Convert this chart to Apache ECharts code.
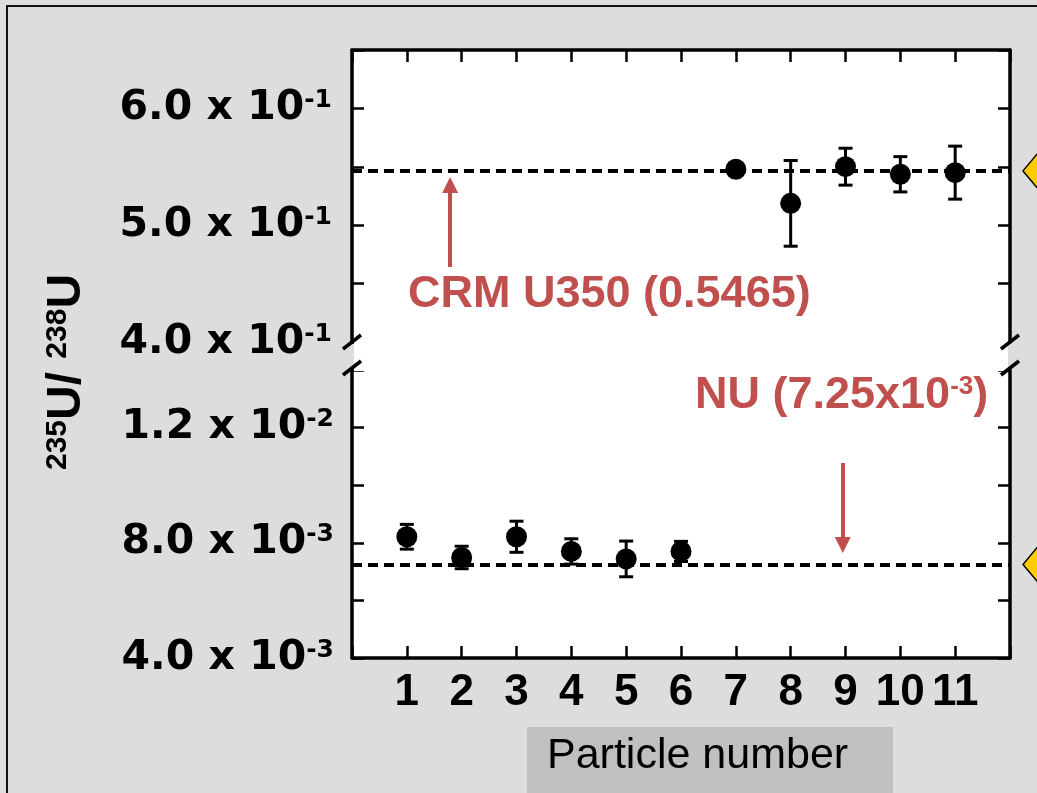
<!DOCTYPE html>
<html>
<head>
<meta charset="utf-8">
<script src="https://cdn.jsdelivr.net/npm/echarts@6/dist/echarts.min.js"></script>
<style>
  html, body { margin: 0; padding: 0; background: #dddddd; }
  #main { width: 1037px; height: 793px; }
</style>
</head>
<body>
<div id="main"></div>
<script>
// particle number axis
var particleTicks = ['1', '2', '3', '4', '5', '6', '7', '8', '9', '10', '11'];

// natural uranium particles (lower panel)
var lowParticles = [1, 2, 3, 4, 5, 6];
var lowRatio = [0.00821, 0.00749, 0.00821, 0.00770, 0.00744, 0.00770];
var lowErr = [0.00043, 0.00039, 0.00054, 0.00044, 0.00062, 0.00035];

// CRM U350 particles (upper panel)
var highParticles = [7, 8, 9, 10, 11];
var highRatio = [0.5479, 0.5187, 0.5501, 0.5436, 0.5450];
var highErr = [0.002, 0.0367, 0.0158, 0.0151, 0.0227];

// reference values
var crmValue = 0.5465;
var nuValue = 0.00725;

// tick labels
var upperTickValues = [0.4, 0.5, 0.6];
var upperTickText = ['4.0 x 10', '5.0 x 10', '6.0 x 10'];
var upperTickExp = ['-1', '-1', '-1'];
var lowerTickValues = [0.004, 0.008, 0.012];
var lowerTickText = ['4.0 x 10', '8.0 x 10', '1.2 x 10'];
var lowerTickExp = ['-3', '-3', '-2'];

var chart = echarts.init(document.getElementById('main'));

var RED = '#c0504d';
var GL = 352, GR = 1010;            // plot left / right edge
var UP_TOP = 50, UP_BOT = 342;      // upper panel
var LO_TOP = 370, LO_BOT = 658;     // lower panel

function tickFormatter(values, texts, exps) {
  return function (v) {
    for (var i = 0; i < values.length; i++) {
      if (Math.abs(v - values[i]) < values[i] * 1e-6) {
        return '{m|' + texts[i] + '}{e|' + exps[i] + '}';
      }
    }
    return '';
  };
}

var yLabelRich = {
  m: { fontFamily: 'DejaVu Sans', fontWeight: 'bold', fontSize: 41, lineHeight: 41, color: '#000' },
  e: { fontFamily: 'DejaVu Sans', fontWeight: 'bold', fontSize: 25, lineHeight: 25, color: '#000', verticalAlign: 'top' }
};

var lineAxis = { show: true, lineStyle: { color: '#000', width: 3.5 } };
var tickIn = { show: true, inside: true, length: 12, lineStyle: { color: '#000', width: 2.5 } };

function errRender(params, api) {
  var x = api.value(0);
  var top = api.coord([x, api.value(2)]);
  var bot = api.coord([x, api.value(1)]);
  var hw = 7;
  var st = { stroke: '#000', lineWidth: 3 };
  return {
    type: 'group',
    children: [
      { type: 'line', shape: { x1: top[0], y1: top[1], x2: bot[0], y2: bot[1] }, style: st },
      { type: 'line', shape: { x1: top[0] - hw, y1: top[1], x2: top[0] + hw, y2: top[1] }, style: st },
      { type: 'line', shape: { x1: bot[0] - hw, y1: bot[1], x2: bot[0] + hw, y2: bot[1] }, style: st }
    ]
  };
}

var lowErrData = lowParticles.map(function (p, i) { return [p, lowRatio[i] - lowErr[i], lowRatio[i] + lowErr[i]]; });
var highErrData = highParticles.map(function (p, i) { return [p, highRatio[i] - highErr[i], highRatio[i] + highErr[i]]; });
var lowPoints = lowParticles.map(function (p, i) { return [p, lowRatio[i]]; });
var highPoints = highParticles.map(function (p, i) { return [p, highRatio[i]]; });

var dashStyle = { color: '#000', width: 4, type: [10, 6] };
var arrowStyle = { color: RED, width: 4, type: 'solid' };

var option = {
  backgroundColor: '#dddddd',
  animation: false,
  grid: [
    { left: GL, right: 1037 - GR, top: UP_TOP, height: UP_BOT - UP_TOP, show: true, backgroundColor: '#fff', borderWidth: 0 },
    { left: GL, right: 1037 - GR, top: LO_TOP, height: LO_BOT - LO_TOP, show: true, backgroundColor: '#fff', borderWidth: 0 }
  ],
  xAxis: [
    {
      gridIndex: 0, type: 'value', position: 'top', min: 0, max: 12, interval: 1,
      axisLine: lineAxis, axisTick: tickIn, axisLabel: { show: false }, splitLine: { show: false }
    },
    {
      gridIndex: 1, type: 'value', position: 'bottom', min: 0, max: 12, interval: 1,
      axisLine: lineAxis, axisTick: tickIn, splitLine: { show: false },
      axisLabel: {
        margin: 13,
        fontFamily: '"Liberation Sans", Arial, sans-serif', fontWeight: 'bold', fontSize: 44, color: '#000',
        formatter: function (v) { return particleTicks[v - 1] || ''; }
      }
    }
  ],
  yAxis: [
    {
      gridIndex: 0, type: 'value', position: 'left', min: 0.4, max: 0.65, interval: 0.05,
      axisLine: lineAxis, axisTick: tickIn, splitLine: { show: false },
      axisLabel: { margin: 20, showMinLabel: true, formatter: tickFormatter(upperTickValues, upperTickText, upperTickExp), rich: yLabelRich }
    },
    {
      gridIndex: 0, type: 'value', position: 'right', min: 0.4, max: 0.65, interval: 0.05,
      axisLine: lineAxis, axisTick: tickIn, splitLine: { show: false }, axisLabel: { show: false }
    },
    {
      gridIndex: 1, type: 'value', position: 'left', min: 0.004, max: 0.014, interval: 0.002,
      axisLine: lineAxis, axisTick: tickIn, splitLine: { show: false },
      axisLabel: { margin: 18, showMinLabel: true, formatter: tickFormatter(lowerTickValues, lowerTickText, lowerTickExp), rich: yLabelRich }
    },
    {
      gridIndex: 1, type: 'value', position: 'right', min: 0.004, max: 0.014, interval: 0.002,
      axisLine: lineAxis, axisTick: tickIn, splitLine: { show: false }, axisLabel: { show: false }
    }
  ],
  series: [
    {
      type: 'custom', xAxisIndex: 0, yAxisIndex: 0, renderItem: errRender, data: highErrData,
      encode: { x: 0, y: [1, 2] }, z: 3,
      markLine: {
        silent: true, precision: 6, symbol: ['none', 'triangle'], symbolSize: 16, label: { show: false },
        lineStyle: arrowStyle,
        data: [[{ coord: [1.79, 0.4642] }, { coord: [1.79, 0.5344] }]]
      }
    },
    {
      type: 'scatter', xAxisIndex: 0, yAxisIndex: 0, data: highPoints, symbolSize: 21,
      itemStyle: { color: '#000', opacity: 1 }, z: 4,
      markLine: {
        silent: true, precision: 6, symbol: 'none', label: { show: false }, lineStyle: dashStyle,
        data: [{ yAxis: crmValue }]
      }
    },
    {
      type: 'custom', xAxisIndex: 1, yAxisIndex: 2, renderItem: errRender, data: lowErrData,
      encode: { x: 0, y: [1, 2] }, z: 3,
      markLine: {
        silent: true, precision: 6, symbol: ['none', 'triangle'], symbolSize: 16, label: { show: false },
        lineStyle: arrowStyle,
        data: [[{ coord: [8.95, 0.01077] }, { coord: [8.95, 0.00792] }]]
      }
    },
    {
      type: 'scatter', xAxisIndex: 1, yAxisIndex: 2, data: lowPoints, symbolSize: 21,
      itemStyle: { color: '#000', opacity: 1 }, z: 4,
      markLine: {
        silent: true, precision: 6, symbol: 'none', label: { show: false }, lineStyle: dashStyle,
        data: [{ yAxis: nuValue }]
      }
    }
  ]
};

chart.setOption(option);

// positions of the reference values, for the side markers
var yCrm = chart.convertToPixel({ yAxisIndex: 0 }, crmValue);
var yNu = chart.convertToPixel({ yAxisIndex: 2 }, nuValue);

function diamond(cy) {
  return {
    type: 'polygon', z: 10,
    shape: { points: [[1023, cy], [1043, cy - 24], [1063, cy], [1043, cy + 24]] },
    style: { fill: '#ffcc00', stroke: '#000', lineWidth: 1.5 }
  };
}

function breakMark(cx, cy) {
  return {
    type: 'line', z: 10,
    shape: { x1: cx - 9, y1: cy + 7, x2: cx + 9, y2: cy - 7 },
    style: { stroke: '#000', lineWidth: 3.5 }
  };
}

chart.setOption({
  graphic: [
    // outer frame
    { type: 'rect', z: -10, shape: { x: 7, y: 6, width: 1100, height: 900 }, style: { fill: 'none', stroke: '#111', lineWidth: 2 } },
    // white gap between the two panels
    { type: 'rect', z: 9, shape: { x: GL + 2, y: UP_BOT - 1, width: GR - GL - 4, height: LO_TOP - UP_BOT + 2 }, style: { fill: '#fff' } },
    breakMark(GL, UP_BOT), breakMark(GL, LO_TOP - 2),
    breakMark(GR, UP_BOT), breakMark(GR, LO_TOP - 2),
    diamond(yCrm), diamond(yNu),
    {
      type: 'text', z: 10, x: 408, y: 295,
      style: { text: 'CRM U350 (0.5465)', fill: RED, font: 'bold 45px "Liberation Sans", Arial, sans-serif', textAlign: 'left', textVerticalAlign: 'middle' }
    },
    {
      type: 'text', z: 10, x: 695, y: 396,
      style: {
        text: '{m|NU (7.25x10}{e|-3}{m|)}', textAlign: 'left', textVerticalAlign: 'middle',
        rich: {
          m: { fontFamily: 'Liberation Sans', fontWeight: 'bold', fontSize: 45, lineHeight: 45, fill: RED },
          e: { fontFamily: 'Liberation Sans', fontWeight: 'bold', fontSize: 26, lineHeight: 26, fill: RED, verticalAlign: 'top' }
        }
      }
    },
    {
      type: 'text', z: 10, x: 67, y: 372, rotation: Math.PI / 2,
      style: {
        text: '{e|235}{m|U/ }{e|238}{m|U}', textAlign: 'center', textVerticalAlign: 'middle',
        rich: {
          m: { fontFamily: 'Liberation Sans', fontWeight: 'bold', fontSize: 48, lineHeight: 48, fill: '#000' },
          e: { fontFamily: 'Liberation Sans', fontWeight: 'bold', fontSize: 30, lineHeight: 30, fill: '#000', verticalAlign: 'top' }
        }
      }
    },
    // x axis title box
    { type: 'rect', z: 10, shape: { x: 527, y: 727, width: 366, height: 80 }, style: { fill: '#c0c0c0' } },
    {
      type: 'text', z: 11, x: 547, y: 756,
      style: { text: 'Particle number', fill: '#000', font: '43px "Liberation Sans", Arial, sans-serif', textAlign: 'left', textVerticalAlign: 'middle' }
    }
  ]
});
</script>
</body>
</html>
